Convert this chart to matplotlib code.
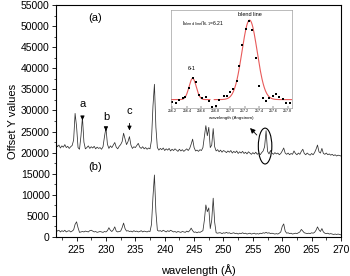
import numpy as np
import matplotlib
matplotlib.use("Agg")
import matplotlib.pyplot as plt
from matplotlib.patches import Ellipse
from matplotlib.ticker import MultipleLocator

plt.rcParams['font.family'] = ['Liberation Sans', 'DejaVu Sans']

# ---------------- data ----------------
wl_start = 221.5
wl_step = 0.25

# spectrum (a), in units of 100 counts; rows = 1 Angstrom (x.0, x.25, x.5, x.75)
spec_a = [
    222, 214,                 # 221.5
    218, 211, 216, 213,       # 222
    219, 212, 215, 210,       # 223
    214, 217, 230, 293,       # 224
    262, 212, 208, 240,       # 225
    284, 225, 209, 212,       # 226
    216, 210, 214, 211,       # 227
    215, 209, 213, 210,       # 228
    212, 208, 214, 238,       # 229
    259, 220, 210, 216,       # 230
    212, 218, 224, 213,       # 231
    209, 215, 219, 226,       # 232
    246, 232, 219, 226,       # 233
    238, 218, 210, 214,       # 234
    212, 217, 222, 213,       # 235
    210, 214, 209, 212,       # 236
    208, 211, 209, 230,       # 237
    310, 362, 260, 212,       # 238
    206, 210, 207, 211,       # 239
    205, 209, 206, 210,       # 240
    204, 208, 205, 209,       # 241
    206, 203, 208, 204,       # 242
    207, 203, 206, 209,       # 243
    205, 210, 220, 232,       # 244
    212, 204, 206, 203,       # 245
    207, 205, 212, 238,       # 246
    264, 240, 260, 212,       # 247
    218, 257, 214, 204,       # 248
    207, 202, 206, 201,       # 249
    205, 203, 200, 204,       # 250
    201, 205, 199, 203,       # 251
    200, 204, 198, 202,       # 252
    199, 203, 198, 201,       # 253
    197, 202, 199, 196,       # 254
    200, 197, 201, 196,       # 255
    199, 195, 200, 204,       # 256
    214, 252, 203, 197,       # 257
    205, 199, 196, 200,       # 258
    197, 199, 195, 198,       # 259
    204, 211, 199, 196,       # 260
    199, 195, 198, 196,       # 261
    204, 198, 195, 199,       # 262
    196, 203, 208, 198,       # 263
    195, 199, 196, 194,       # 264
    198, 195, 200, 208,       # 265
    218, 202, 199, 210,       # 266
    198, 196, 199, 195,       # 267
    197, 194, 196, 193,       # 268
    195, 192, 194, 193,       # 269
    192,                      # 270
]

# spectrum (b), in units of 100 counts
spec_b = [
    18, 14,                   # 221.5
    16, 12, 15, 13,           # 222
    16, 12, 14, 15,           # 223
    12, 14, 17, 30,           # 224
    36, 22, 11, 12,           # 225
    13, 12, 14, 13,           # 226
    12, 15, 16, 14,           # 227
    12, 13, 11, 12,           # 228
    13, 12, 11, 13,           # 229
    12, 15, 22, 16,           # 230
    13, 17, 24, 14,           # 231
    12, 13, 14, 22,           # 232
    33, 20, 14, 15,           # 233
    13, 14, 12, 15,           # 234
    13, 14, 12, 13,           # 235
    15, 12, 14, 13,           # 236
    12, 14, 13, 30,           # 237
    95, 147, 60, 16,          # 238
    14, 15, 13, 16,           # 239
    14, 12, 15, 13,           # 240
    16, 14, 12, 13,           # 241
    11, 13, 12, 11,           # 242
    13, 12, 11, 14,           # 243
    12, 15, 21, 15,           # 244
    11, 12, 10, 12,           # 245
    11, 13, 15, 40,           # 246
    76, 60, 69, 20,           # 247
    40, 92, 35, 10,           # 248
    9, 10, 10, 8,             # 249
    10, 9, 11, 9,             # 250
    10, 8, 9, 10,             # 251
    8, 9, 7, 9,               # 252
    8, 10, 8, 9,              # 253
    7, 8, 9, 7,               # 254
    8, 9, 7, 8,               # 255
    7, 9, 8, 10,              # 256
    9, 11, 9, 10,             # 257
    8, 9, 8, 7,               # 258
    8, 7, 9, 12,              # 259
    25, 31, 14, 9,            # 260
    10, 8, 9, 7,              # 261
    8, 9, 8, 10,              # 262
    12, 18, 14, 10,           # 263
    9, 8, 9, 8,               # 264
    10, 9, 11, 16,            # 265
    24, 17, 13, 20,           # 266
    12, 9, 8, 9,              # 267
    7, 8, 7, 6,               # 268
    7, 6, 7, 6,               # 269
    5,                        # 270
]

xticks_main = [225, 230, 235, 240, 245, 250, 255, 260, 265, 270]
yticks_main = [0, 5000, 10000, 15000, 20000, 25000, 30000, 35000, 40000, 45000, 50000, 55000]

# marked lines in (a): label, wavelength, arrow-head level, label level
mark_labels = ['a', 'b', 'c']
mark_wl = [226.0, 230.0, 234.0]
mark_head = [27000, 25100, 24600]
mark_text = [30300, 27300, 28700]

# inset: measured points around 256-258 A
inset_x = [256.20, 256.25, 256.29, 256.34, 256.38, 256.43, 256.48, 256.52, 256.57,
           256.61, 256.66, 256.71, 256.75, 256.80, 256.85, 256.91, 256.95, 257.00,
           257.04, 257.09, 257.13, 257.17, 257.22, 257.26, 257.31, 257.36, 257.40,
           257.45, 257.50, 257.54, 257.59, 257.63, 257.68, 257.73, 257.77, 257.83]
inset_y = [-2.0, -3.6, -0.3, 1.7, 3.0, 11.4, 21.4, 18.0, 4.7,
           1.7, 3.0, -1.3, -7.6, -6.3, -0.3, 3.4, 3.7, 7.4,
           10.7, 19.0, 34.0, 55.7, 71.7, 80.0, 70.0, 42.4, 13.4,
           1.4, -1.0, 1.4, 4.0, 5.7, 2.4, 0.7, -3.3, -3.3]
# Gaussian fits: centre, amplitude, sigma, range
fit_center = [256.48, 257.27]
fit_amp = [21.5, 80.5]
fit_sigma = [0.05, 0.105]
fit_lo = [256.18, 256.78]
fit_hi = [256.72, 257.86]
inset_xticks = [256.2, 256.4, 256.6, 256.8, 257.0, 257.2, 257.4, 257.6, 257.8]

# ---------------- figure ----------------
fig = plt.figure(figsize=(3.5, 2.76), dpi=100)
ax = fig.add_axes([0.16, 0.1413, 0.8143, 0.8406])

ya = np.array(spec_a) * 100.0
yb = np.array(spec_b) * 100.0
xa = wl_start + wl_step * np.arange(len(ya))
xb = wl_start + wl_step * np.arange(len(yb))
ax.plot(xa, ya, color='#303030', lw=0.55)
ax.plot(xb, yb, color='#303030', lw=0.55)

ax.set_xlim(221.5, 270)
ax.set_ylim(0, 55000)
ax.set_xticks(xticks_main)
ax.set_yticks(yticks_main)
ax.xaxis.set_minor_locator(MultipleLocator(2.5))
ax.yaxis.set_minor_locator(MultipleLocator(2500))
ax.tick_params(which='major', direction='out', length=3, width=0.6, labelsize=7.5)
ax.tick_params(axis='x', which='major', pad=3)
ax.tick_params(axis='y', which='major', pad=1.5)
ax.tick_params(which='minor', direction='out', length=1.8, width=0.5)
for s in ax.spines.values():
    s.set_linewidth(0.8)

ax.set_xlabel('wavelength (Å)', fontsize=8, labelpad=6)
ax.set_ylabel('Offset Y values', fontsize=8, labelpad=2)

ax.text(228.1, 51900, '(a)', fontsize=8, ha='center', va='center')
ax.text(228.1, 16600, '(b)', fontsize=8, ha='center', va='center')

for lab, w, yh, yt in zip(mark_labels, mark_wl, mark_head, mark_text):
    ax.annotate('', xy=(w, yh), xytext=(w, yt - 1100),
                arrowprops=dict(arrowstyle='-|>,head_length=0.25,head_width=0.12',
                                color='black', lw=0.6))
    ax.text(w, yt, lab, fontsize=8, ha='center', va='bottom')

ell = Ellipse((257.08, 21560), width=2.3, height=8500, fill=False,
              edgecolor='black', lw=0.8)
ax.add_patch(ell)
ax.annotate('', xy=(254.2, 26300), xytext=(256.0, 23700),
            arrowprops=dict(arrowstyle='-|>,head_length=0.3,head_width=0.15',
                            color='black', lw=0.6))

# ---------------- inset ----------------
ins = fig.add_axes([0.4886, 0.6087, 0.346, 0.355])
for c, a, s, lo, hi in zip(fit_center, fit_amp, fit_sigma, fit_lo, fit_hi):
    xx = np.linspace(lo, hi, 200)
    ins.plot(xx, a * np.exp(-(xx - c) ** 2 / (2 * s ** 2)), color='#e85a5a', lw=0.8)
ins.plot(inset_x, inset_y, 's', color='black', ms=1.6, mew=0)
ins.set_xlim(256.18, 257.86)
ins.set_ylim(-8.5, 90.7)
ins.set_xticks(inset_xticks)
ins.set_xticklabels([f'{v:.1f}' for v in inset_xticks])
ins.set_yticks([])
ins.tick_params(axis='x', direction='in', length=1.2, width=0.3, labelsize=2.6, pad=1)
for s in ins.spines.values():
    s.set_linewidth(0.4)
    s.set_edgecolor('#888888')
ins.set_xlabel('wavelength (Angstrom)', fontsize=3.2, labelpad=2)
ins.text(256.33, 77.4, r'I$_{\rm blend\ line}$/I$_{\rm 6\text{-}1}$=6.21', fontsize=3.6,
         ha='left', va='center')
ins.text(257.28, 85.7, 'blend line', fontsize=4, ha='center', va='center')
ins.text(256.47, 31.4, '6-1', fontsize=4, ha='center', va='center')

fig.savefig('out.png', dpi=100)
